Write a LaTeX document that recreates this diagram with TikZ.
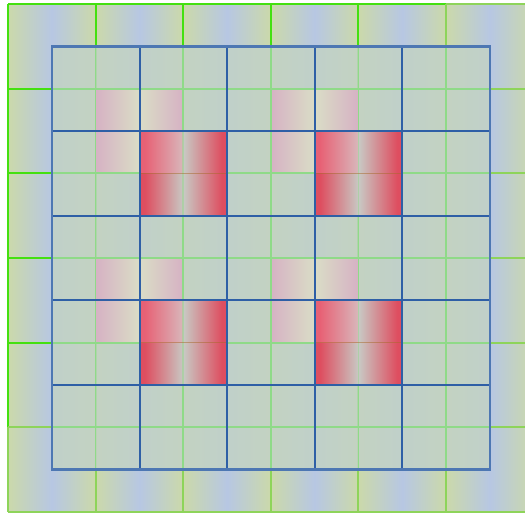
\documentclass[tikz,border=0pt]{standalone}
\definecolor{gY}{HTML}{CBD9AA}
\definecolor{gB}{HTML}{B7C7E3}
\definecolor{gBright}{HTML}{44E010}
\definecolor{gLight}{HTML}{8ED45A}
\definecolor{ovl}{HTML}{C2D2C6}
\definecolor{gIn}{HTML}{8FDA88}
\definecolor{bLine}{HTML}{2E5FA6}
\definecolor{pinkE}{HTML}{D6B2C4}
\definecolor{pinkM}{HTML}{DADDC6}
\definecolor{redE}{HTML}{DE4E60}
\definecolor{redM}{HTML}{C8C9C4}
\definecolor{pinkGlow}{HTML}{FF90A8}
\definecolor{olive}{HTML}{A86A2A}
\pgfdeclarehorizontalshading{redsh}{100bp}{color(0bp)=(redE); color(28bp)=(redE); color(50bp)=(redM); color(72bp)=(redE); color(100bp)=(redE)}
\begin{document}
\begin{tikzpicture}[x=0.75pt,y=-0.75pt,
  gcell/.style={left color=gY, right color=gY, middle color=gB},
  pcell/.style={left color=pinkE, right color=pinkE, middle color=pinkM},
  rcell/.style={shading=redsh},
  gbright/.style={draw=gBright, line width=1.5pt},
  glight/.style={draw=gLight, line width=1.5pt},
  ginner/.style={draw=gIn, line width=1.3pt},
  bgrid/.style={draw=bLine, line width=1.5pt}]
\def\cw{87.6}
\def\ch{84.67}
\def\bx{52}
\def\by{46.3}
\useasboundingbox (0,0) rectangle (525,514);
\fill[white] (0,0) rectangle (525,514);
\clip (0,0) rectangle (525,514);
% green layer cells
\foreach \i in {0,...,5}{\foreach \j in {0,...,5}{
  \shade[gcell] ({8+\cw*\i},{4+\ch*\j}) rectangle ++(\cw,\ch);
}}
% bright borders of the first 5x5 cells
\foreach \i in {0,...,5}{
  \draw[gbright] ({8+\cw*\i},4) -- ({8+\cw*\i},{4+5*\ch});
  \draw[gbright] (8,{4+\ch*\i}) -- ({8+5*\cw},{4+\ch*\i});
}
% lighter borders of last row and last column
\foreach \i in {0,...,6}{
  \draw[glight] ({8+\cw*\i},{4+5*\ch}) -- ({8+\cw*\i},{4+6*\ch});
  \draw[glight] ({8+5*\cw},{4+\ch*\i}) -- ({8+6*\cw},{4+\ch*\i});
}
\draw[glight] (8,{4+5*\ch}) -- ({8+6*\cw},{4+5*\ch});
\draw[glight] (8,{4+6*\ch}) -- ({8+6*\cw},{4+6*\ch});
\draw[glight] ({8+5*\cw},4) -- ({8+5*\cw},{4+6*\ch});
% blue layer overlay
\fill[ovl, fill opacity=0.85] (\bx,\by) rectangle ({\bx+5*\cw},{\by+5*\ch});
% pink cells
\foreach \i/\j in {1/1,3/1,1/3,3/3}{
  \shade[pcell] ({8+\cw*\i},{4+\ch*\j}) rectangle ++(\cw,\ch);
}
% green lines seen through the blue layer
\begin{scope}
  \clip (\bx,\by) rectangle ({\bx+5*\cw},{\by+5*\ch});
  \foreach \i in {1,...,5}{
    \draw[ginner] ({8+\cw*\i},0) -- ({8+\cw*\i},514);
    \draw[ginner] (0,{4+\ch*\i}) -- (525,{4+\ch*\i});
  }
\end{scope}
% red cells
\foreach \i/\j in {1/1,3/1,1/3,3/3}{
  \shade[rcell] ({\bx+\cw*\i},{\by+\ch*\j}) rectangle ++(\cw,\ch);
  % brighter where the pink cell lies beneath
  \fill[pinkGlow, fill opacity=0.3] ({\bx+\cw*\i},{\by+\ch*\j}) rectangle ({8+\cw*(\i+1)},{4+\ch*(\j+1)});
  % green lines glimpsed through the red cell
  \draw[ginner, draw opacity=0.45] ({8+\cw*(\i+1)},{\by+\ch*\j}) -- ({8+\cw*(\i+1)},{\by+\ch*(\j+1)});
  \draw[draw=olive, line width=1.2pt, draw opacity=0.5] ({\bx+\cw*\i},{4+\ch*(\j+1)}) -- ({\bx+\cw*(\i+1)},{4+\ch*(\j+1)});
}
% blue grid
\foreach \i in {0,...,5}{
  \draw[bgrid] ({\bx+\cw*\i},\by) -- ({\bx+\cw*\i},{\by+5*\ch});
  \draw[bgrid] (\bx,{\by+\ch*\i}) -- ({\bx+5*\cw},{\by+\ch*\i});
}
\draw[bLine!85!white, line width=1.8pt] (\bx,\by) rectangle ({\bx+5*\cw},{\by+5*\ch});
\end{tikzpicture}
\end{document}
